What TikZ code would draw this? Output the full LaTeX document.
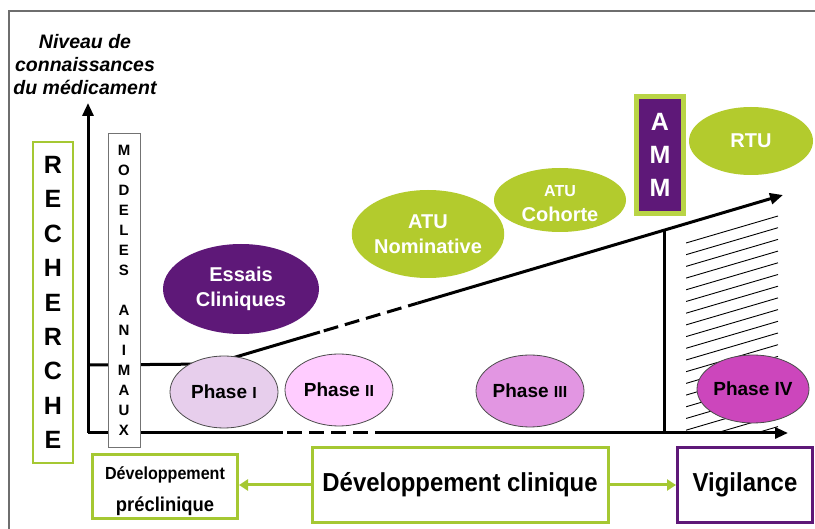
\documentclass[tikz,border=0pt]{standalone}
\usepackage{fontspec}
\setmainfont{Liberation Sans}
\newfontfamily\narrowfont{Liberation Sans Bold}[FakeStretch=0.92]
\usetikzlibrary{shapes.geometric,arrows.meta,calc}
\definecolor{lime}{RGB}{179,203,45}
\definecolor{limebox}{RGB}{165,200,50}
\definecolor{ammgreen}{RGB}{185,212,70}
\definecolor{purp}{RGB}{94,24,120}
\definecolor{ph1}{RGB}{231,206,236}
\definecolor{ph2}{RGB}{255,204,255}
\definecolor{ph3}{RGB}{226,150,226}
\definecolor{ph4}{RGB}{204,70,188}
\definecolor{framegray}{RGB}{110,110,110}
\tikzset{
  axis/.style={line width=3pt,black},
  axisarrow/.style={axis,-{Triangle[length=13pt,width=11pt]}},
  dashseg/.style={axis,dash pattern=on 15pt off 7pt,dash phase=18pt},
  phase/.style={ellipse,draw=black!70,line width=0.8pt,inner sep=0pt,
     minimum width=108pt,minimum height=72pt,font=\bfseries\fontsize{19}{22}\selectfont},
  blob/.style={ellipse,inner sep=0pt,text=white,align=center,
     font=\bfseries\fontsize{20}{25}\selectfont},
  greenbox/.style={draw=limebox,line width=3pt,inner sep=0pt,align=center},
  greenarrow/.style={draw=limebox,line width=3pt,-{Triangle[length=9pt,width=11pt]}},
  hatch/.style={line width=0.9pt,black}
}
\newcommand{\rnum}[1]{{\fontsize{16}{16}\selectfont #1}}
\begin{document}
\begin{tikzpicture}[x=1pt,y=-1pt]
\useasboundingbox (0,0) rectangle (815,529);
\fill[white] (0,0) rectangle (815,529);
% frame
\draw[framegray,line width=1.5pt] (9,529) -- (9,11) -- (815,11);

% axis title
\node[font=\bfseries\itshape\fontsize{19.5}{23}\selectfont,align=center] (title) at (85,65)
  {Niveau de\\connaissances\\du médicament};

% axes
\coordinate (O) at (88,433);
\coordinate (ytip) at (88,103);
\coordinate (xtip) at (788,433);
\coordinate (d1) at (283,433);
\coordinate (d2) at (380,433);
\coordinate (h0) at (88,365);
\coordinate (P0) at (212,364);
\coordinate (P1) at (783,195);
\coordinate (r1) at ($(P0)!0.189!(P1)$);
\coordinate (r2) at ($(P0)!0.36!(P1)$);
\coordinate (vtop) at ($(P0)!0.7933!(P1)$);
\coordinate (vbot) at (vtop |- O);

\draw[axisarrow] (O) -- (ytip);
\draw[axis] (O) -- (d1);
\draw[dashseg] (d1) -- (d2);
\draw[axisarrow] (d2) -- (xtip);
\draw[axis] (h0) -- (P0);
\draw[axis] (P0) -- (r1);
\draw[dashseg] (r1) -- (r2);
\draw[axisarrow] (r2) -- (P1);
\draw[axis] (vtop) -- (vbot);

% hatching
\begin{scope}
\clip (686,213) rectangle (779,432);
\foreach \k in {0,...,19}
  \draw[hatch] (686,{243+11.7*\k}) -- (778,{216+11.7*\k});
\end{scope}

% left boxes
\node[draw=limebox,line width=2.5pt,minimum width=40pt,minimum height=321pt,inner sep=0pt,
  align=center,font=\bfseries\fontsize{25}{34.4}\selectfont] (rech) at (53,302.5)
  {R\\E\\C\\H\\E\\R\\C\\H\\E};
\node[draw=black!55,fill=white,line width=0.8pt,minimum width=32pt,minimum height=314pt,inner sep=0pt,
  align=center,font=\bfseries\fontsize{15}{20}\selectfont] (model) at (124,290)
  {M\\O\\D\\E\\L\\E\\S\\\mbox{}\\A\\N\\I\\M\\A\\U\\X};

% phases
\node[phase,fill=ph1] (p1) at (224,392) {Phase \rnum{I}};
\node[phase,fill=ph2] (p2) at (339,390) {Phase \rnum{II}};
\node[phase,fill=ph3] (p3) at (530,391) {Phase \rnum{III}};
\node[phase,fill=ph4,minimum height=68pt] (p4) at (753,389) {Phase IV};

% blobs
\node[blob,fill=purp,minimum width=156pt,minimum height=90pt] (essais) at (241,289) {Essais\\Cliniques};
\node[blob,fill=lime,minimum width=140pt,minimum height=88pt] (atun) at (428,234) {ATU\\Nominative};
\node[blob,fill=lime,minimum width=132pt,minimum height=64pt] (atuc) at (560,200)
  {{\fontsize{16}{25}\selectfont\rule{0pt}{18pt}ATU}\\Cohorte};
\node[blob,fill=lime,minimum width=124pt,minimum height=68pt] (rtu) at (751,141) {RTU};

% AMM
\node[fill=purp,draw=ammgreen,line width=5pt,minimum width=47pt,minimum height=117pt,inner sep=0pt,
  text=white,align=center,font=\bfseries\fontsize{25}{33}\selectfont] (amm) at (660,155) {A\\M\\M};

% bottom boxes
\node[greenbox,minimum width=145pt,minimum height=64pt,font=\narrowfont\fontsize{20}{32}\selectfont] (precl) at (165,486.5)
  {{\fontsize{17.5}{32}\selectfont\rule{0pt}{22pt}Développement}\\préclinique};
\node[greenbox,minimum width=296pt,minimum height=75pt,font=\narrowfont\fontsize{26}{30}\selectfont] (clin) at (460,485)
  {Développement clinique};
\node[draw=purp,line width=3pt,minimum width=135pt,minimum height=75pt,inner sep=0pt,
  font=\narrowfont\fontsize{26}{30}\selectfont] (vig) at (745,485) {Vigilance};

\draw[greenarrow] (clin.west) -- (clin.west -| precl.east);
\draw[greenarrow] (clin.east) -- (vig.west);
\end{tikzpicture}
\end{document}
